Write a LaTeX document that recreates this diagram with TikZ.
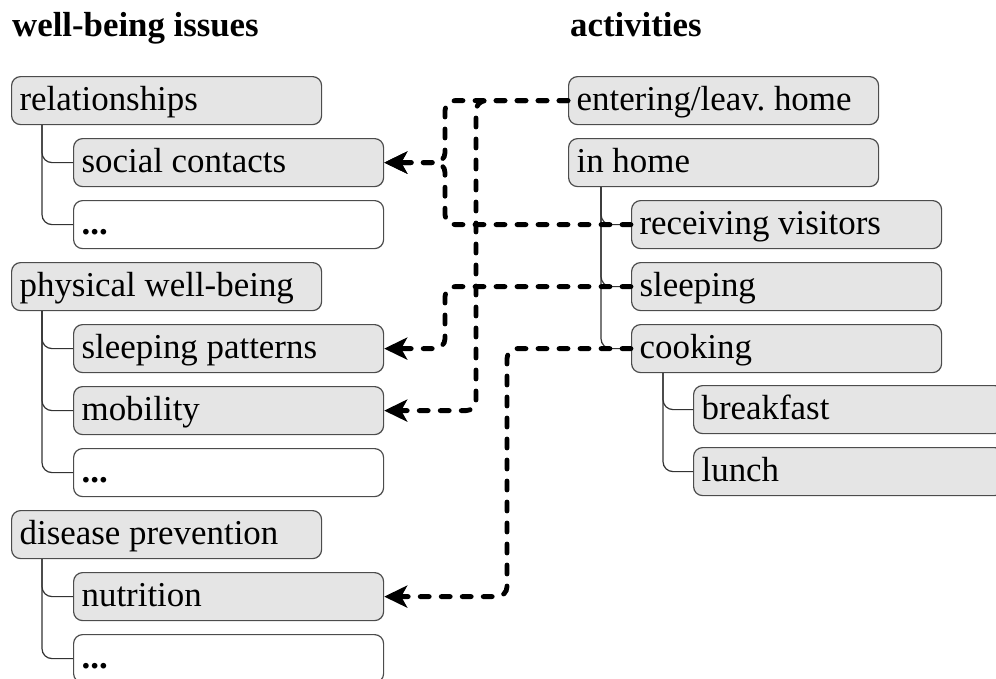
\documentclass[tikz,border=0pt]{standalone}
\usepackage{fontspec}
\setmainfont{Liberation Serif}
\usetikzlibrary{arrows.meta}
\frenchspacing
\begin{document}
\begin{tikzpicture}[x=1pt,y=-1pt,
  box/.style={rectangle, rounded corners=9pt, draw=black!70, line width=1.2pt,
    fill=gray!20, anchor=north west, minimum width=310pt, minimum height=48pt,
    inner xsep=8pt, inner ysep=0pt, text width=294pt, align=flush left,
    text height=25pt, text depth=5pt, font=\fontsize{34.9}{40}\selectfont\frenchspacing},
  dotbox/.style={box, fill=white},
  hdr/.style={anchor=base west, inner sep=0pt, font=\fontsize{34.8}{40}\selectfont\bfseries},
  tree/.style={draw=black!80, line width=1.2pt, rounded corners=10pt},
  conn/.style={line width=4.8pt, dash pattern=on 9pt off 12pt, line cap=round,
    rounded corners=10pt, -{Stealth[length=23pt,width=22pt,inset=6pt]}}
]
\useasboundingbox (0,0) rectangle (996,678);
\clip (0,0) rectangle (996,678);

% headers
\node[hdr] (h1) at (12,36) {well-being issues};
\node[hdr] (h2) at (570,36) {activities};

% left column
\node[box] (rel) at (11,76) {relationships};
\node[box] (soc) at (73,138) {social contacts};
\node[dotbox] (d1) at (73,200) {\textbf{...}};
\node[box] (phy) at (11,262) {physical well-being};
\node[box] (sp) at (73,324) {sleeping patterns};
\node[box] (mob) at (73,386) {mobility};
\node[dotbox] (d2) at (73,448) {\textbf{...}};
\node[box] (dis) at (11,510) {disease prevention};
\node[box] (nut) at (73,572) {nutrition};
\node[dotbox] (d3) at (73,634) {\textbf{...}};

% right column
\node[box] (ent) at (568,76) {entering/leav. home};
\node[box] (inh) at (568,138) {in home};
\node[box] (rec) at (631,200) {receiving visitors};
\node[box] (slp) at (631,262) {sleeping};
\node[box] (cook) at (631,324) {cooking};
\node[box] (bre) at (693,385) {breakfast};
\node[box] (lun) at (693,447) {lunch};

% tree lines
\draw[tree] ([xshift=31pt]rel.south west) |- (soc.west);
\draw[tree] ([xshift=31pt]rel.south west) |- (d1.west);
\draw[tree] ([xshift=31pt]phy.south west) |- (sp.west);
\draw[tree] ([xshift=31pt]phy.south west) |- (mob.west);
\draw[tree] ([xshift=31pt]phy.south west) |- (d2.west);
\draw[tree] ([xshift=31pt]dis.south west) |- (nut.west);
\draw[tree] ([xshift=31pt]dis.south west) |- (d3.west);
\draw[tree] ([xshift=33pt]inh.south west) |- (rec.west);
\draw[tree] ([xshift=33pt]inh.south west) |- (slp.west);
\draw[tree] ([xshift=33pt]inh.south west) |- (cook.west);
\draw[tree] ([xshift=32pt]cook.south west) |- (bre.west);
\draw[tree] ([xshift=32pt]cook.south west) |- (lun.west);

% junction columns
\coordinate (j1) at (445,0);
\coordinate (j2) at (476,0);
\coordinate (j3) at (507,0);

% connectors
\draw[conn] (ent.west) -| (j1 |- soc.east) -- (soc.east);
\draw[conn] (rec.west) -| (j1 |- soc.east) -- (soc.east);
\draw[conn] (ent.west) -| (j2 |- mob.east) -- (mob.east);
\draw[conn] (slp.west) -| (j1 |- sp.east) -- (sp.east);
\draw[conn] (cook.west) -| (j3 |- nut.east) -- (nut.east);
\end{tikzpicture}
\end{document}
